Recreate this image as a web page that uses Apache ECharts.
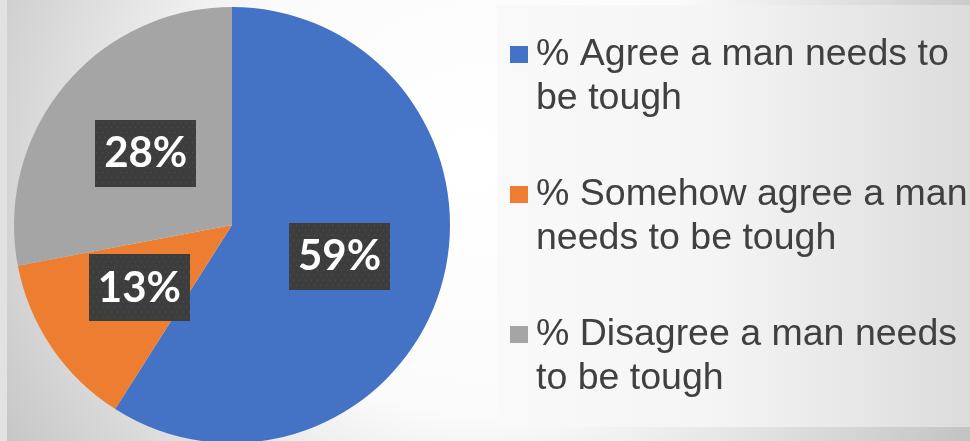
<!DOCTYPE html>
<html>
<head>
<meta charset="utf-8">
<script src="https://cdn.jsdelivr.net/npm/echarts@6/dist/echarts.min.js"></script>
<style>
  html, body { margin: 0; padding: 0; background: #ffffff; }
  #chart { width: 970px; height: 441px; }
</style>
</head>
<body>
<div id="chart"></div>
<script>
// Survey answers: share of respondents per answer
const categories = [
  '% Agree a man needs to be tough',
  '% Somehow agree a man needs to be tough',
  '% Disagree a man needs to be tough'
];
const legendLines = [
  ['% Agree a man needs to', 'be tough'],
  ['% Somehow agree a man', 'needs to be tough'],
  ['% Disagree a man needs', 'to be tough']
];
const shares = [59, 13, 28];
const sliceColors = ['#4472C4', '#ED7D31', '#A5A5A5'];

// Dark dotted texture used behind the value labels
function dottedTile(w, h) {
  const c = document.createElement('canvas');
  c.width = w; c.height = h;
  const g = c.getContext('2d');
  g.fillStyle = '#3d3d3d';
  g.fillRect(0, 0, w, h);
  g.fillStyle = '#575757';
  for (let y = 2, row = 0; y < h; y += 5, row++) {
    for (let x = (row % 2 ? 4 : 1); x < w; x += 6) {
      g.fillRect(x, y, 1, 1);
    }
  }
  return c;
}
const tile = dottedTile(101, 67);

const chart = echarts.init(document.getElementById('chart'), null, { renderer: 'canvas' });

const option = {
  animation: false,
  backgroundColor: {
    type: 'radial', x: 475, y: 160, r: 560, global: true,
    colorStops: [
      { offset: 0, color: '#ffffff' },
      { offset: 0.45, color: '#fbfbfb' },
      { offset: 0.82, color: '#d6d6d6' },
      { offset: 1, color: '#c4c4c4' }
    ]
  },
  graphic: [
    { type: 'rect', z: -10, shape: { x: 0, y: 0, width: 7, height: 441 }, style: { fill: '#e2e2e2' } },
    {
      type: 'rect', z: -10,
      shape: { x: 497, y: 5, width: 473, height: 422 },
      style: {
        fill: {
          type: 'linear', x: 0, y: 0, x2: 1, y2: 0,
          colorStops: [
            { offset: 0, color: '#f9f9f9' },
            { offset: 0.45, color: '#f5f5f5' },
            { offset: 1, color: '#dcdcdc' }
          ]
        }
      }
    }
  ],
  legend: {
    orient: 'vertical',
    left: 510,
    top: -11.5,
    padding: 0,
    itemWidth: 18,
    itemHeight: 17,
    itemGap: 8,
    icon: 'rect',
    selectedMode: false,
    data: categories,
    // leading blank line keeps the first text line level with the swatch
    formatter: function (name) {
      return '\n' + legendLines[categories.indexOf(name)].join('\n');
    },
    textStyle: {
      fontFamily: '"Liberation Sans", Arial, sans-serif',
      fontSize: 37.5,
      lineHeight: 44,
      color: '#404040',
      padding: [0, 0, 0, 3]
    }
  },
  series: [{
    type: 'pie',
    center: [232, 225],
    radius: 218,
    startAngle: 90,
    clockwise: true,
    avoidLabelOverlap: false,
    silent: true,
    itemStyle: { borderWidth: 0 },
    label: {
      show: true,
      position: 'inside',
      formatter: '{c}%',
      fontFamily: 'Lato, "Open Sans", sans-serif',
      fontWeight: 'bold',
      fontSize: 42,
      color: '#ffffff',
      backgroundColor: { image: tile },
      width: 101,
      height: 67,
      lineHeight: 67,
      align: 'center',
      verticalAlign: 'middle',
      padding: 0,
      shadowColor: 'rgba(0,0,0,0.45)',
      shadowBlur: 6,
      shadowOffsetX: 3,
      shadowOffsetY: 3
    },
    labelLine: { show: false },
    data: categories.map((name, i) => ({
      name: name,
      value: shares[i],
      itemStyle: { color: sliceColors[i] }
    }))
  }]
};

chart.setOption(option);
</script>
</body>
</html>
